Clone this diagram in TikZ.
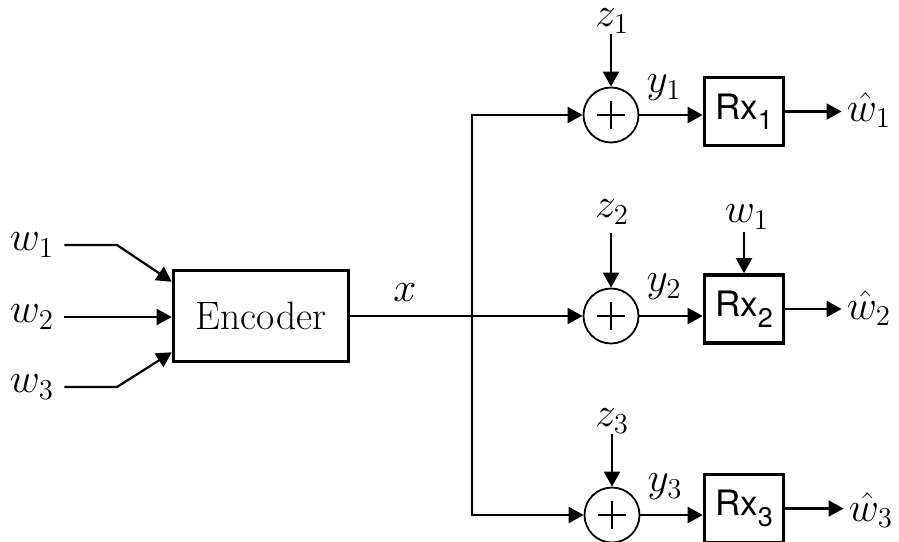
\documentclass[tikz,border=0pt]{standalone}
\usepackage{fontspec}
\newfontfamily\rxfont{TeX Gyre Heros}
\usetikzlibrary{arrows.meta,calc}
\begin{document}
\begin{tikzpicture}[x=0.5pt,y=-0.5pt,
  font=\fontsize{19.8}{23}\selectfont,
  >={Triangle[length=7.5pt,width=8pt]},
  conn/.style={line width=1.1pt,->},
  wire/.style={line width=1.1pt},
  block/.style={draw,line width=1.8pt,inner sep=0pt},
  rxbox/.style={block,minimum width=39.5pt,minimum height=34pt,font=\rxfont\fontsize{17.5}{20}\selectfont},
  adder/.style={draw,circle,line width=0.9pt,minimum size=27.5pt,inner sep=0pt,
    path picture={\draw[line width=0.6pt]
      ([xshift=-6.8pt]path picture bounding box.center) -- ([xshift=6.8pt]path picture bounding box.center)
      ([yshift=-6.8pt]path picture bounding box.center) -- ([yshift=6.8pt]path picture bounding box.center);}},
  lbl/.style={inner sep=0pt}]
\useasboundingbox (0,0) rectangle (899,541);
\clip (0,0) rectangle (899,541);
\newcommand{\rxsub}[1]{\raisebox{-0.3em}{\fontsize{13.5}{13}\selectfont #1}}

% encoder and inputs
\node[block,minimum width=87.5pt,minimum height=45.5pt] (enc) at (261,316) {Encoder};
\node[lbl] (w1) at (32,245) {$w_1$};
\node[lbl] (w2) at (32,317) {$w_2$};
\node[lbl] (w3) at (32,387) {$w_3$};
\draw[conn,shorten <=5pt] (w1.east) -- (117,245) -- ($(enc.north west)+(0,13)$);
\draw[conn,shorten <=5pt] (w2.east) -- (w2.east -| enc.west);
\draw[conn,shorten <=5pt] (w3.east) -- (117,387) -- ($(enc.south west)+(0,-11)$);

% adders
\node[adder] (c1) at (611,115) {};
\node[adder] (c2) at (611,316) {};
\node[adder] (c3) at (612,515) {};

% broadcast
\coordinate (br) at (472,316);
\node[lbl] (xl) at (405,293) {$x$};
\draw[wire] (enc.east) -- (br);
\draw[conn] (br) -- (c2.west);
\draw[conn] (br) |- (c1.west);
\draw[conn] (br) |- (c3.west);

% noise
\node[lbl] (z1) at (612,21) {$z_1$};
\node[lbl] (z2) at (612,212) {$z_2$};
\node[lbl] (z3) at (612,421) {$z_3$};
\draw[conn,shorten <=0.5pt] (c1.north |- z1.south) -- (c1.north);
\draw[conn,shorten <=4.5pt] (c2.north |- z2.south) -- (c2.north);
\draw[conn,shorten <=0.5pt] (c3.north |- z3.south) -- (c3.north);

% receivers
\node[rxbox] (rx1) at (744,111.5) {Rx\rxsub{1}};
\node[rxbox] (rx2) at (744,309) {Rx\rxsub{2}};
\node[rxbox] (rx3) at (744,508.5) {Rx\rxsub{3}};
\node[lbl] (y1) at (664,88) {$y_1$};
\node[lbl] (y2) at (664,287) {$y_2$};
\node[lbl] (y3) at (665,487) {$y_3$};
\draw[conn] (c1.east) -- (c1.east -| rx1.west);
\draw[conn] (c2.east) -- (c2.east -| rx2.west);
\draw[conn] (c3.east) -- (c3.east -| rx3.west);

% side information
\node[lbl] (wr) at (747,217) {$w_1$};
\draw[conn,shorten <=1.5pt] (rx2.north |- wr.south) -- (rx2.north);

% outputs
\node[lbl] (wh1) at (869,110) {$\hat w_1$};
\node[lbl] (wh2) at (869,308) {$\hat w_2$};
\node[lbl] (wh3) at (871,510) {$\hat w_3$};
\draw[conn,shorten >=2.5pt] (rx1.east) -- (rx1.east -| wh1.west);
\draw[conn,shorten >=2.5pt] (rx2.east) -- (rx2.east -| wh2.west);
\draw[conn,shorten >=2.5pt] (rx3.east) -- (rx3.east -| wh3.west);
\end{tikzpicture}
\end{document}
